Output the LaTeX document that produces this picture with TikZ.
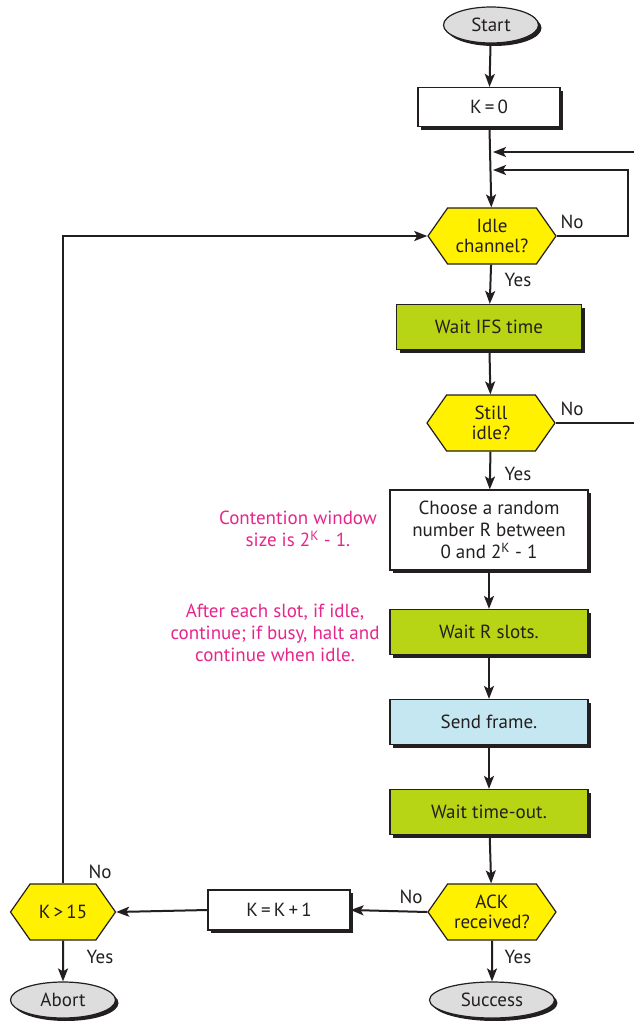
\documentclass[tikz,border=0pt]{standalone}
\usepackage{fontspec}
\setmainfont{PT Sans}
\usetikzlibrary{shapes.geometric,shapes.symbols,shadows,arrows.meta}

\definecolor{waitgreen}{RGB}{183,213,20}
\definecolor{sendblue}{RGB}{197,231,241}
\definecolor{askyellow}{RGB}{255,241,0}
\definecolor{endgray}{RGB}{221,221,221}
\definecolor{notepink}{RGB}{231,38,140}
\definecolor{ink}{RGB}{35,31,32}

\newcommand\flowfont{\fontsize{19}{22}\selectfont}

\tikzset{
    darkshadow/.style={drop shadow={shadow xshift=3pt,shadow yshift=-3pt,fill=ink,opacity=1}},
    box/.style={draw=ink,line width=1.2pt,text=ink,font=\flowfont,
        minimum width=198pt,minimum height=45pt,align=center,darkshadow},
    term/.style={ellipse,draw=ink,line width=1.2pt,fill=endgray,text=ink,
        font=\flowfont,minimum height=36pt,inner sep=0pt,darkshadow},
    ask/.style={signal,signal to=west and east,signal pointer angle=110,
        draw=ink,line width=1.2pt,fill=askyellow,text=ink,font=\flowfont,
        align=center,minimum width=128pt,minimum height=56pt,inner sep=1pt},
    arr/.style={color=ink,line width=2pt,-{Stealth[length=13pt,width=10pt,inset=3pt]}},
    lbl/.style={text=ink,font=\flowfont},
    note/.style={text=notepink,font=\flowfont,align=center}
}

\begin{document}
\begin{tikzpicture}[x=1pt,y=1pt]
    \fill[white] (0,0) rectangle (634,-1021);
    \useasboundingbox (0,0) rectangle (634,-1021);

    % main column
    \node[term,minimum width=95pt] (start) at (491,-25) {Start};
    \node[box,fill=white,minimum width=142pt,minimum height=39pt] (k0) at (489,-107) {K\,=\,0};
    \node[ask] (idle) at (492,-236) {Idle\\[-2pt]channel?};
    \node[box,fill=waitgreen,minimum width=185pt] (ifs) at (489,-327) {Wait IFS time};
    \node[ask] (still) at (491,-423) {Still\\[-2pt]idle?};
    \node[box,fill=white,minimum height=80pt,inner sep=2pt] (choose) at (489,-530)
        {Choose a random\\number R between\\0 and 2\textsuperscript{K} - 1};
    \node[box,fill=waitgreen] (slots) at (489,-632) {Wait R slots.};
    \node[box,fill=sendblue] (send) at (489,-722) {Send frame.};
    \node[box,fill=waitgreen] (timeout) at (489,-812) {Wait time-out.};
    \node[ask] (ack) at (492,-912) {ACK\\[-2pt]received?};
    \node[term,minimum width=125pt] (success) at (492,-1000) {Success};

    % bottom row
    \node[box,fill=white,minimum width=142pt,minimum height=40pt] (inc) at (279,-910) {K\,=\,K\,+\,1};
    \node[ask,minimum width=105pt] (kmax) at (63,-912) {K\,>\,15};
    \node[term,minimum width=105pt] (abort) at (63,-1000) {Abort};

    % notes
    \node[note] (window) at (298,-529) {Contention window\\size is 2\textsuperscript{K} - 1.};
    \node[note] (slotnote) at (275,-633) {After each slot, if idle,\\continue; if busy, halt and\\continue when idle.};

    % merge points above the first test
    \coordinate (j1) at (493,-152);
    \coordinate (j2) at (493,-170);

    \draw[arr] (start) -- (k0);
    \draw[arr] (k0) -- (idle);
    \draw[arr] (idle.east) -- ++(71,0) |- (j2);
    \draw[arr] (idle) -- (ifs);
    \draw[arr] (ifs) -- (still);
    \draw[arr] (still.east) -- ++(90,0) |- (j1);
    \draw[arr] (still) -- (choose);
    \draw[arr] (choose) -- (slots);
    \draw[arr] (slots) -- (send);
    \draw[arr] (send) -- (timeout);
    \draw[arr] (timeout) -- (ack);
    \draw[arr] (ack) -- (success);
    \draw[arr] (ack.west) -- (inc.east);
    \draw[arr] (inc.west) -- (kmax.east);
    \draw[arr] (kmax) -- (abort);
    \draw[arr] (kmax.north) |- (idle.west);

    % branch labels
    \node[lbl] (idleno) at (572,-222) {No};
    \node[lbl] (idleyes) at (518,-280) {Yes};
    \node[lbl] (stillno) at (572,-409) {No};
    \node[lbl] (stillyes) at (518,-474) {Yes};
    \node[lbl] (ackno) at (411,-897) {No};
    \node[lbl] (ackyes) at (518,-957) {Yes};
    \node[lbl] (kmaxno) at (100,-872) {No};
    \node[lbl] (kmaxyes) at (100,-957) {Yes};
\end{tikzpicture}
\end{document}
